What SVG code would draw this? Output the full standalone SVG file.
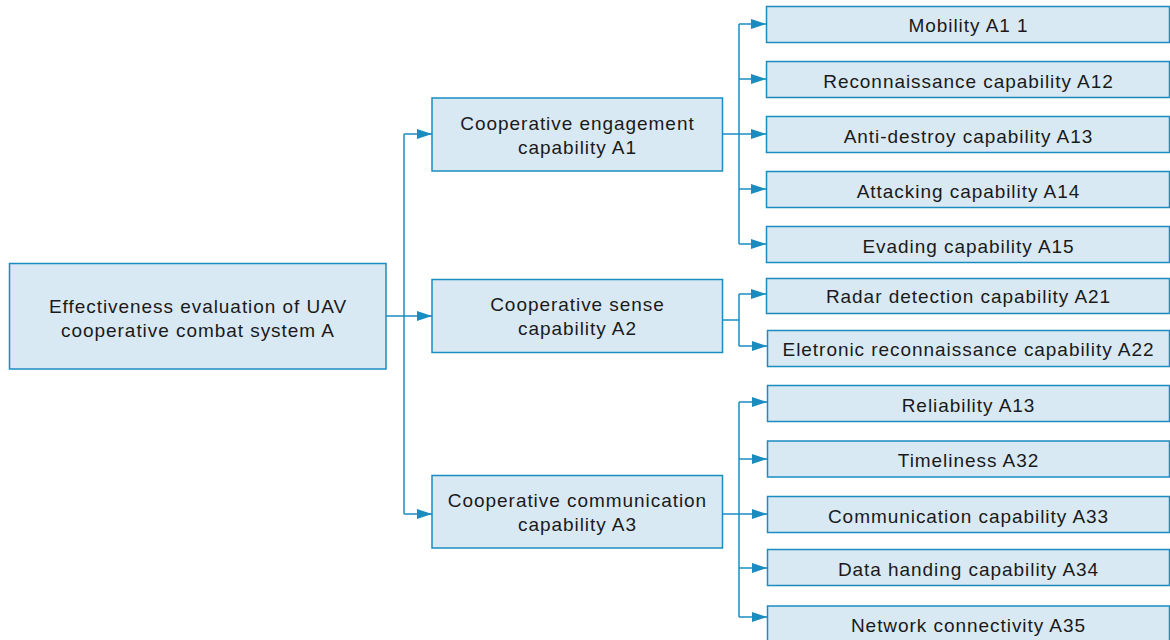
<svg xmlns="http://www.w3.org/2000/svg" width="1170" height="640" viewBox="0 0 1170 640">
<defs>
<style>
.box{fill:#d9e9f4;stroke:#1a8cc0;stroke-width:1.5}
.t{font-family:"Liberation Sans",Arial,sans-serif;font-size:19px;fill:#1a1a1a;text-anchor:middle;letter-spacing:0.95px}
.c{fill:none;stroke:#1a8cc0;stroke-width:1.5}
</style>
<marker id="ah" viewBox="0 0 15 10" refX="15" refY="5" markerWidth="15" markerHeight="10" markerUnits="userSpaceOnUse" orient="auto">
<path d="M0,0 L15,5 L0,10 Z" fill="#1a8cc0"/>
</marker>
</defs>
<rect width="1170" height="640" fill="#ffffff"/>
<g id="connectors">
<path class="c" d="M386,316 H432" marker-end="url(#ah)"/>
<path class="c" d="M404,134 V514"/>
<path class="c" d="M404,134 H432" marker-end="url(#ah)"/>
<path class="c" d="M404,514 H432" marker-end="url(#ah)"/>
<path class="c" d="M722,134 H766" marker-end="url(#ah)"/>
<path class="c" d="M739,24 V244"/>
<path class="c" d="M739,24 H766" marker-end="url(#ah)"/>
<path class="c" d="M739,79 H766" marker-end="url(#ah)"/>
<path class="c" d="M739,189 H766" marker-end="url(#ah)"/>
<path class="c" d="M739,244 H766" marker-end="url(#ah)"/>
<path class="c" d="M722,320 H739"/>
<path class="c" d="M739,294 V346"/>
<path class="c" d="M739,294 H766" marker-end="url(#ah)"/>
<path class="c" d="M739,346 H767" marker-end="url(#ah)"/>
<path class="c" d="M722,514 H767" marker-end="url(#ah)"/>
<path class="c" d="M739,402 V617"/>
<path class="c" d="M739,402 H767" marker-end="url(#ah)"/>
<path class="c" d="M739,459 H767" marker-end="url(#ah)"/>
<path class="c" d="M739,568 H767" marker-end="url(#ah)"/>
<path class="c" d="M739,617 H767" marker-end="url(#ah)"/>
</g>
<g id="root"><rect class="box" x="9.5" y="263.5" width="376.5" height="105.5"/><text class="t" x="198" y="312.5">Effectiveness evaluation of UAV</text><text class="t" x="198" y="336.5">cooperative combat system A</text></g>
<g id="A1"><rect class="box" x="432" y="98" width="290.5" height="73"/><text class="t" x="577.5" y="129.5">Cooperative engagement</text><text class="t" x="577.5" y="153.5">capability A1</text></g>
<g id="A2"><rect class="box" x="432" y="279.5" width="290.5" height="73"/><text class="t" x="577.5" y="311">Cooperative sense</text><text class="t" x="577.5" y="335">capability A2</text></g>
<g id="A3"><rect class="box" x="432" y="475.5" width="290.5" height="72.5"/><text class="t" x="577.5" y="506.5">Cooperative communication</text><text class="t" x="577.5" y="530.5">capability A3</text></g>
<g id="A11"><rect class="box" x="766.5" y="6.5" width="403" height="36"/><text class="t" x="968.5" y="32">Mobility A1 1</text></g>
<g id="A12"><rect class="box" x="766.5" y="61.5" width="403" height="36"/><text class="t" x="968.5" y="87.5">Reconnaissance capability A12</text></g>
<g id="A13"><rect class="box" x="766.5" y="116.5" width="403" height="36"/><text class="t" x="968.5" y="142.5">Anti-destroy capability A13</text></g>
<g id="A14"><rect class="box" x="766.5" y="171.5" width="403" height="36"/><text class="t" x="968.5" y="197.5">Attacking capability A14</text></g>
<g id="A15"><rect class="box" x="766.5" y="226.5" width="403" height="36"/><text class="t" x="968.5" y="252.5">Evading capability A15</text></g>
<g id="A21"><rect class="box" x="766.5" y="278.5" width="403" height="35"/><text class="t" x="968.5" y="303">Radar detection capability A21</text></g>
<g id="A22"><rect class="box" x="767.5" y="330.5" width="402" height="36"/><text class="t" x="968.5" y="355.5">Eletronic reconnaissance capability A22</text></g>
<g id="A31"><rect class="box" x="767.5" y="385.5" width="402" height="36"/><text class="t" x="968.5" y="411.5">Reliability A13</text></g>
<g id="A32"><rect class="box" x="767.5" y="441" width="402" height="36"/><text class="t" x="968.5" y="467">Timeliness A32</text></g>
<g id="A33"><rect class="box" x="767.5" y="496.5" width="402" height="36"/><text class="t" x="968.5" y="522.5">Communication capability A33</text></g>
<g id="A34"><rect class="box" x="767.5" y="549.5" width="402" height="36"/><text class="t" x="968.5" y="576">Data handing capability A34</text></g>
<g id="A35"><rect class="box" x="767.5" y="606" width="402" height="36"/><text class="t" x="968.5" y="632">Network connectivity A35</text></g>
</svg>
